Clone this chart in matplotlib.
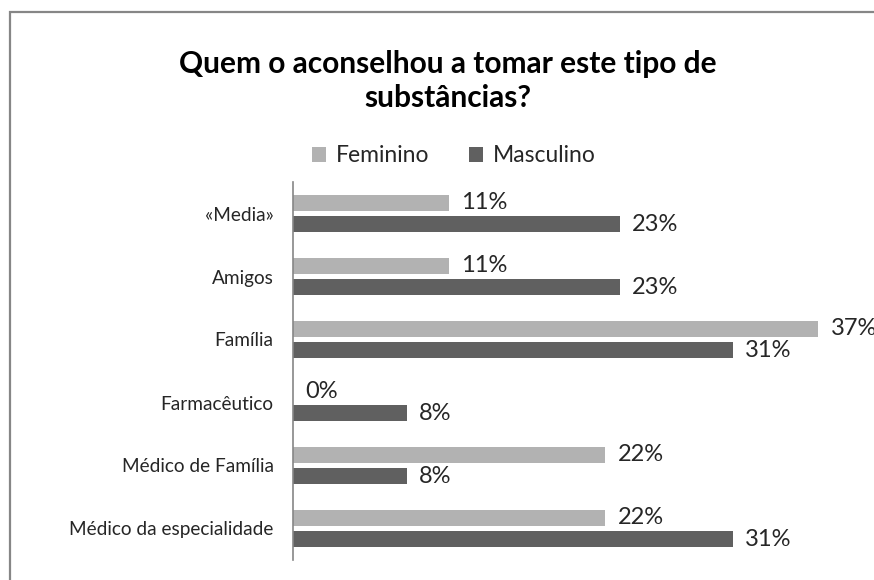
import matplotlib.pyplot as plt
from matplotlib.patches import Rectangle

categories = ["«Media»", "Amigos", "Família", "Farmacêutico", "Médico de Família", "Médico da especialidade"]
feminino = [11, 11, 37, 0, 22, 22]
masculino = [23, 23, 31, 8, 8, 31]
series_names = ["Feminino", "Masculino"]

FEM_C = "#b2b2b2"
MASC_C = "#606060"
AXIS_C = "#868686"
TEXT_C = "#262626"

plt.rcParams["font.family"] = ["Lato", "DejaVu Sans"]

W, H = 874, 580
fig = plt.figure(figsize=(W / 100, H / 100), dpi=100)
fig.patch.set_facecolor("white")

# outer chart border (runs off the right and bottom edges)
fig.patches.append(Rectangle((9.5 / W, -0.2), 2.0, 1.2 - 12 / H, transform=fig.transFigure,
                             fill=False, edgecolor=AXIS_C, linewidth=1.6))

ax = fig.add_axes([293 / W, 1 - 560 / H, (861 - 293) / W, (560 - 182) / H])
ys = list(range(len(categories)))
off, bh = 0.167, 0.254
ax.barh([y - off for y in ys], feminino, height=bh, color=FEM_C, label=series_names[0])
ax.barh([y + off for y in ys], masculino, height=bh, color=MASC_C, label=series_names[1])

for y, v in zip(ys, feminino):
    ax.text(v + 0.85, y - off, f"{v}%", va="center", ha="left", fontsize=17, color=TEXT_C, clip_on=False)
for y, v in zip(ys, masculino):
    ax.text(v + 0.85, y + off, f"{v}%", va="center", ha="left", fontsize=17, color=TEXT_C, clip_on=False)

ax.set_xlim(0, 40)
ax.set_ylim(len(categories) - 0.5, -0.5)
ax.set_yticks(ys)
ax.set_yticklabels(categories, fontsize=13.7, color=TEXT_C)
ax.tick_params(axis="y", length=0, pad=14)
ax.set_xticks([])
for s in ["top", "right", "bottom"]:
    ax.spines[s].set_visible(False)
ax.spines["left"].set_color(AXIS_C)
ax.spines["left"].set_linewidth(1.2)

fig.text(448 / W, 1 - 81 / H, "Quem o aconselhou a tomar este tipo de\nsubstâncias?", ha="center", va="center",
         fontsize=21.5, fontweight="bold", color="black", linespacing=1.3)

fig.legend(loc="center", bbox_to_anchor=(454 / W, 1 - 156 / H), ncol=2, frameon=False, fontsize=16.5,
           handlelength=0.6, handleheight=0.6, handletextpad=0.45, columnspacing=1.7, labelcolor=TEXT_C)

fig.savefig("out.png", dpi=100)
